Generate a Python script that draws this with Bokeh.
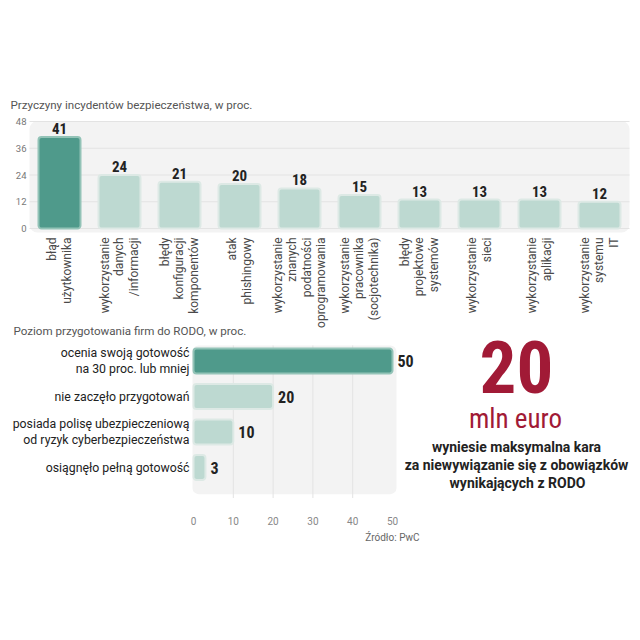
import math
from bokeh.plotting import figure
from bokeh.models import Range1d, FixedTicker, LinearAxis, ColumnDataSource, BoxAnnotation
from bokeh.embed import file_html
from bokeh.resources import INLINE
from bokeh.core.properties import value

# ---------------- data ----------------
top_title = "Przyczyny incydentów bezpieczeństwa, w proc."
causes = [
    "błąd\nużytkownika",
    "wykorzystanie\ndanych\n/informacji",
    "błędy\nkonfiguracji\nkomponentów",
    "atak\nphishingowy",
    "wykorzystanie\nznanych\npodatności\noprogramowania",
    "wykorzystanie\npracownika\n(socjotechnika)",
    "błędy\nprojektowe\nsystemów",
    "wykorzystanie\nsieci",
    "wykorzystanie\naplikacji",
    "wykorzystanie\nsystemu\nIT",
]
cause_values = [41, 24, 21, 20, 18, 15, 13, 13, 13, 12]
top_ticks = [0, 12, 24, 36, 48]

bottom_title = "Poziom przygotowania firm do RODO, w proc."
readiness = [
    "ocenia swoją gotowość\nna 30 proc. lub mniej",
    "nie zaczęło przygotowań",
    "posiada polisę ubezpieczeniową\nod ryzyk cyberbezpieczeństwa",
    "osiągnęło pełną gotowość",
]
readiness_values = [50, 20, 10, 3]
bottom_ticks = [0, 10, 20, 30, 40, 50]
bottom_grid = [10, 20, 30, 40]

fine_amount = "20"
fine_unit = "mln euro"
fine_text = ["wyniesie maksymalna kara",
             "za niewywiązanie się z obowiązków",
             "wynikających z RODO"]
source_note = "Źródło: PwC"

# ---------------- style ----------------
DARK = "#4f9a8b"
LIGHT = "#bdd9d1"
DARK_LINE = "#93c3b7"
LIGHT_LINE = "#dde9e5"
BG = "#f3f3f3"
GRID = "#e3e3e3"
RED = "#a11a36"
SANS = "Roboto"
COND = "Roboto Condensed"


def plain_axis(ax, standoff, size, color):
    ax.axis_line_color = None
    ax.major_tick_line_color = None
    ax.minor_tick_line_color = None
    ax.major_tick_out = 0
    ax.major_tick_in = 0
    ax.minor_tick_out = 0
    ax.minor_tick_in = 0
    ax.major_label_standoff = standoff
    ax.major_label_text_font = SANS
    ax.major_label_text_font_size = size
    ax.major_label_text_color = color


W = H = 640
p = figure(width=W, height=H, x_range=Range1d(0, W), y_range=Range1d(H, 0),
           output_backend="svg", toolbar_location=None, min_border=0,
           x_axis_location=None, y_axis_location=None)
p.grid.visible = False
p.outline_line_color = None
p.background_fill_color = "white"
p.border_fill_color = "white"

# scales for the two charts (placed inside one canvas)
p.extra_x_ranges = {
    "tx": Range1d(-59 / 60, (W - 59) / 60),          # top chart: categories
    "bx": Range1d(-193 / 3.98, (W - 193) / 3.98),    # bottom chart: percent
}
p.extra_y_ranges = {
    "ty": Range1d((228 - H) / 2.229, 228 / 2.229),   # top chart: percent
    "by": Range1d((H - 360.5) / 35.5, -360.5 / 35.5),  # bottom chart: rows
}

# ---------------- top chart ----------------
cidx = list(range(len(causes)))
p.add_layout(BoxAnnotation(left=-0.5, right=9.5, bottom=-1.79, top=48.2,
                           x_range_name="tx", y_range_name="ty", border_radius=8,
                           fill_color=BG, fill_alpha=1.0, line_color=None, level="image"))
p.segment(x0=[-0.5] * len(top_ticks), x1=[9.5] * len(top_ticks), y0=top_ticks, y1=top_ticks,
          x_range_name="tx", y_range_name="ty", line_color=GRID, line_width=1)

src1 = ColumnDataSource(dict(
    x=cidx, top=cause_values, cat=causes,
    base=[-1.79] * len(causes),
    fill=[DARK] + [LIGHT] * (len(causes) - 1),
    line=[DARK_LINE] + [LIGHT_LINE] * (len(causes) - 1),
    label=[str(v) for v in cause_values]))
p.vbar(x="x", top="top", bottom=0, width=0.7, source=src1, x_range_name="tx", y_range_name="ty",
       fill_color="fill", line_color="line", line_width=2, border_radius=3)
p.text(x="x", y="top", text="label", source=src1, x_range_name="tx", y_range_name="ty",
       text_align="center", text_baseline="bottom", y_offset=-3, text_font=value(COND),
       text_font_style="bold", text_font_size="15px", text_color="#222222")
# category labels, rotated, lines right-aligned towards the axis
p.text(x="x", y="base", text="cat", source=src1, x_range_name="tx", y_range_name="ty",
       angle=math.pi / 2, text_align="right", text_baseline="middle", y_offset=5,
       text_font=value(SANS), text_font_size="12px", text_line_height=1.02,
       text_color="#4a4a4a")

ty_axis = LinearAxis(x_range_name="tx", y_range_name="ty", fixed_location=-0.5,
                     ticker=FixedTicker(ticks=top_ticks))
plain_axis(ty_axis, 3, "9.5px", "#777777")
p.add_layout(ty_axis, "left")

p.text(x=[10], y=[104], text=[top_title], text_align="left", text_baseline="middle",
       text_font=value(SANS), text_font_size="11.6px", text_color="#555555")

# ---------------- bottom chart ----------------
ridx = list(range(len(readiness)))
p.add_layout(BoxAnnotation(left=-0.25, right=51, top=-0.437, bottom=3.75,
                           x_range_name="bx", y_range_name="by", border_radius=6,
                           fill_color=BG, fill_alpha=1.0, line_color=None, level="image"))
p.segment(x0=bottom_grid, x1=bottom_grid, y0=[-0.437] * len(bottom_grid),
          y1=[3.86] * len(bottom_grid), x_range_name="bx", y_range_name="by",
          line_color=GRID, line_width=1)

src2 = ColumnDataSource(dict(
    y=ridx, right=readiness_values,
    fill=[DARK] + [LIGHT] * (len(readiness) - 1),
    line=[DARK_LINE] + [LIGHT_LINE] * (len(readiness) - 1),
    label=[str(v) for v in readiness_values]))
p.hbar(y="y", left=0, right="right", height=0.7, source=src2, x_range_name="bx", y_range_name="by",
       fill_color="fill", line_color="line", line_width=2, border_radius=3)
p.text(x="right", y="y", text="label", source=src2, x_range_name="bx", y_range_name="by",
       text_align="left", text_baseline="middle", x_offset=5, text_font=value(COND),
       text_font_style="bold", text_font_size="16px", text_color="#222222")

bx_axis = LinearAxis(x_range_name="bx", y_range_name="by", fixed_location=4.155,
                     ticker=FixedTicker(ticks=bottom_ticks))
plain_axis(bx_axis, 8, "10px", "#888888")
p.add_layout(bx_axis, "below")

by_axis = LinearAxis(x_range_name="bx", y_range_name="by", fixed_location=-0.25,
                     ticker=FixedTicker(ticks=ridx))
plain_axis(by_axis, 3, "12.3px", "#222222")
by_axis.major_label_overrides = {i: readiness[i] for i in ridx}
by_axis.major_label_text_line_height = 1.1
p.add_layout(by_axis, "left")

p.text(x=[13], y=[330], text=[bottom_title], text_align="left", text_baseline="middle",
       text_font=value(SANS), text_font_size="11.6px", text_color="#555555")
p.text(x=[419], y=[537], text=[source_note], text_align="right", text_baseline="middle",
       text_font=value(SANS), text_font_size="10px", text_color="#666666")

# ---------------- right text block ----------------
p.text(x=[516], y=[366], text=[fine_amount], text_align="center", text_baseline="middle",
       text_font=value(COND), text_font_style="bold", text_font_size="73px", text_color=RED)
p.text(x=[515], y=[418], text=[fine_unit], text_align="center", text_baseline="middle",
       text_font=value(COND), text_font_size="27px", text_color=RED)
p.text(x=[516, 516, 517], y=[446, 464, 482], text=fine_text, text_align="center",
       text_baseline="middle", text_font=value(SANS), text_font_style="bold",
       text_font_size="14px", text_color="#222222")

open("out.html", "w").write(file_html(p, INLINE))
